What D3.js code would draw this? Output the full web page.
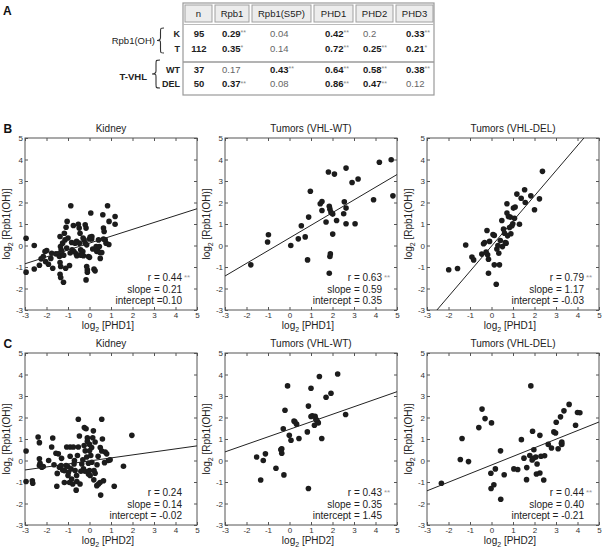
<!DOCTYPE html>
<html><head><meta charset="utf-8">
<script src="https://cdn.jsdelivr.net/npm/d3@7"></script>
<style>body{margin:0;background:#fff}svg{display:block}</style>
</head><body>
<script>
// ---------------- DATA ----------------
const tableCols = ["n", "Rpb1", "Rpb1(S5P)", "PHD1", "PHD2", "PHD3"];
const tableGroups = ["Rpb1(OH)", "T-VHL"];
const tableRowLabels = [["K", "T"], ["WT", "DEL"]];
const tableN = [[95, 112], [37, 50]];
// value, significance stars ("" = not significant)
const tableValues = [
  [["0.29","**"],["0.04",""],["0.42","**"],["0.2",""],["0.33","**"]],
  [["0.35","*"],["0.14",""],["0.72","**"],["0.25","**"],["0.21","*"]],
  [["0.17",""],["0.43","**"],["0.64","**"],["0.58","**"],["0.38","**"]],
  [["0.37","**"],["0.08",""],["0.86","**"],["0.47","**"],["0.12",""]]
];

const axisTicks = [-3, -2, -1, 0, 1, 2, 3, 4, 5];
const panelTitles = ["Kidney", "Tumors (VHL-WT)", "Tumors (VHL-DEL)"];
const xLabels = ["PHD1", "PHD2"];
const panelLetters = ["B", "C"];

// [log2 PHD, log2 Rpb1(OH)]
const kidneyPHD1 = [
[-2.95,0.34],[-2.95,-1.24],[-2.57,0.0],[-2.57,-1.09],[-2.33,-0.92],[-2.25,-0.62],[-2.15,-0.51],[-2.07,-0.28],
[-1.99,-0.23],[-2.04,-0.75],[-1.91,-0.87],[-1.71,-1.06],[-1.76,-0.36],[-1.56,-0.39],[-1.45,-0.39],[-1.40,-0.51],
[-1.37,0.42],[-1.35,-0.05],[-1.32,-0.2],[-1.37,-0.79],[-1.34,-0.98],[-1.37,-1.34],[-1.34,-1.49],[-1.21,-1.71],
[-1.29,-0.28],[-1.25,0.11],[-1.17,0.57],[-1.14,0.26],[-1.11,-1.06],[-1.09,0.85],[-1.06,-0.12],[-1.04,1.12],
[-0.93,-0.93],[-0.87,1.85],[-0.83,0.14],[-0.81,-0.2],[-0.75,0.93],[-0.72,-0.28],[-0.67,0.11],[-0.62,-0.39],
[-0.59,-0.48],[-0.52,0.99],[-0.48,0.81],[-0.47,0.11],[-0.44,0.57],[-0.41,-0.2],[-0.36,-0.39],[-0.31,-0.28],
[-0.28,-0.48],[-0.25,0.26],[-0.2,0.11],[-0.2,0.96],[-0.16,0.81],[-0.16,-1.6],[-0.13,0.03],[-0.13,-0.98],
[-0.1,-1.13],[-0.1,-1.24],[-0.05,-0.51],[0.0,0.3],[0.03,0.39],[0.06,1.51],[0.11,0.42],[0.15,-0.16],
[0.21,-1.1],[0.26,-1.18],[0.31,-0.05],[0.34,-0.28],[0.37,-0.23],[0.42,0.26],[0.46,-0.05],[0.49,-0.33],
[0.57,-0.33],[0.62,1.43],[0.65,0.81],[0.68,0.65],[0.73,0.26],[0.77,0.11],[0.84,1.85],[0.91,1.12],
[1.19,1.35],[1.19,0.99],[-0.3,0.35],[-0.6,0.2],[0.5,-0.6],[-1.0,0.35],[0.9,0.05],[-1.8,-0.6],
[-0.9,-0.35],[0.1,0.3],[-0.4,-0.45],[0.0,-0.55],[0.65,0.3],[-1.2,-0.45]
];
const wtPHD1 = [
[-1.80,-0.90],[-1.02,0.16],[-0.98,0.50],[0.06,0.0],[0.41,0.31],[0.55,0.92],[0.73,0.40],[0.84,-0.67],
[0.89,1.32],[0.97,2.52],[1.43,1.94],[1.51,2.05],[1.51,1.63],[1.70,1.09],[1.81,3.42],[1.85,1.82],
[1.88,1.69],[1.90,-0.39],[1.88,-0.51],[1.85,-1.29],[1.93,1.54],[2.01,1.46],[2.01,0.53],[2.09,3.32],
[2.19,1.16],[2.52,1.48],[2.55,2.03],[2.63,3.60],[2.63,1.74],[2.63,1.01],[2.91,2.93],[3.05,1.01],
[3.19,3.09],[3.91,2.13],[4.18,3.87],[4.73,3.99],[4.81,2.31]
];
const delPHD1 = [
[-1.99,-1.13],[-1.58,-1.07],[-1.20,0.02],[-0.91,-0.54],[-0.83,-0.67],[-0.45,-0.40],[-0.37,0.08],[-0.32,0.14],
[-0.21,0.70],[-0.18,-0.43],[-0.14,-0.64],[-0.14,-1.29],[-0.09,0.19],[0.07,0.51],[0.13,0.47],[0.13,-0.90],
[0.22,-1.80],[0.25,-0.16],[0.34,-0.36],[0.37,-0.90],[0.41,0.23],[0.48,1.16],[0.51,-0.05],[0.56,0.76],
[0.61,0.57],[0.64,0.14],[0.68,0.11],[0.72,1.51],[0.72,1.94],[0.75,0.45],[0.79,1.35],[0.84,0.84],
[0.87,1.32],[0.95,0.92],[0.99,1.01],[1.02,1.74],[1.07,1.27],[1.10,1.79],[1.18,2.39],[1.30,0.99],
[1.38,2.20],[1.54,2.59],[1.57,2.00],[1.83,2.31],[2.00,1.66],[2.23,2.17],[2.37,3.45],[0.3,0.0],
[0.9,0.55],[-0.25,-0.3]
];
const kidneyPHD2 = [
[-2.95,0.44],[-2.95,-0.98],[-2.66,-0.94],[-2.64,-1.06],[-2.39,1.09],[-2.33,0.83],[-2.33,0.08],[-2.30,-0.13],
[-2.33,-0.23],[-2.22,-0.31],[-2.15,-0.28],[-1.76,0.63],[-1.71,1.05],[-1.65,-0.20],[-1.56,0.34],[-1.52,-1.20],
[-1.45,0.31],[-1.40,-0.31],[-1.32,-0.23],[-1.25,-0.44],[-1.17,-0.47],[-1.17,-1.02],[-1.09,-0.23],[-1.06,0.63],
[-1.01,-0.28],[-0.98,-0.55],[-0.93,-1.02],[-0.90,0.63],[-0.86,-0.39],[-0.83,-0.86],[-0.78,-1.09],[-0.75,0.63],
[-0.72,-0.16],[-0.67,-0.47],[-0.62,-1.38],[-0.59,-0.98],[-0.56,0.23],[-0.52,0.63],[-0.52,1.92],[-0.47,1.14],
[-0.44,-1.09],[-0.36,-0.16],[-0.31,0.03],[-0.28,-0.39],[-0.24,1.53],[-0.21,-0.50],[-0.16,1.48],[-0.13,0.16],
[-0.10,1.06],[-0.05,-0.13],[-0.05,-0.63],[0.0,0.75],[0.0,-0.47],[0.03,-0.70],[0.06,0.23],[0.11,-0.08],
[0.15,1.06],[0.18,1.38],[0.21,-0.47],[0.26,0.86],[0.26,-0.59],[0.34,-1.17],[0.42,-1.09],[0.49,-1.02],
[0.52,-1.61],[0.57,1.92],[0.57,0.44],[0.65,-0.94],[0.73,0.39],[0.80,0.31],[0.88,0.0],[0.96,0.03],
[1.15,-1.20],[1.58,-0.27],[1.97,1.17],[-0.2,0.45],[0.1,0.6],[-0.4,-0.5],[0.4,0.2],[-1.3,0.1],
[-0.9,0.2],[0.7,-0.1],[-0.6,-0.7],[0.2,-0.9],[-1.0,-0.7],[-0.1,0.9],[0.5,0.6],[-1.9,0.0],
[0.0,0.45],[-0.7,0.0],[0.35,-0.2],[-1.5,-0.6],[0.6,1.0],[-0.25,0.7]
];
const wtPHD2 = [
[-1.53,0.16],[-1.22,0.0],[-1.12,0.31],[-1.34,-0.91],[-0.63,-0.36],[-0.40,0.50],[-0.36,0.55],[-0.36,0.34],
[-0.29,1.48],[-0.26,-0.67],[-0.21,2.34],[-0.09,3.47],[-0.01,1.17],[0.07,0.94],[0.21,1.84],[0.33,1.69],
[0.44,1.02],[0.83,1.33],[0.88,2.53],[0.88,-1.30],[1.00,3.36],[1.06,2.08],[1.16,1.64],[1.19,2.06],
[1.23,1.91],[1.26,1.88],[1.34,1.75],[1.39,3.91],[1.50,1.02],[1.70,2.94],[1.93,3.13],[2.24,4.02],
[2.61,2.14],[1.3,1.8],[0.25,1.8],[1.0,2.05],[-0.38,0.52]
];
const delPHD2 = [
[-2.33,-1.06],[-1.45,0.05],[-1.37,1.02],[-1.07,-0.05],[-0.59,1.53],[-0.44,2.39],[-0.30,1.95],[0.00,1.75],
[-0.03,-0.59],[-0.02,-1.30],[0.11,-1.13],[0.18,-0.39],[0.42,0.45],[0.43,-1.80],[0.59,-0.66],[1.04,-0.39],
[1.22,-0.42],[1.39,0.97],[1.51,0.11],[1.63,-0.89],[1.64,-0.33],[1.83,3.47],[1.78,0.23],[1.89,0.02],
[1.91,1.36],[1.97,0.50],[2.06,0.16],[2.09,-0.63],[2.12,-0.16],[2.25,-0.58],[2.25,1.17],[2.43,-0.91],
[2.47,0.22],[2.64,0.75],[2.79,0.58],[2.90,1.33],[2.98,1.28],[3.01,1.78],[3.10,0.55],[3.21,2.03],
[3.27,0.75],[3.27,0.86],[3.37,2.31],[3.61,2.61],[3.91,1.64],[4.00,2.23],[4.11,2.22],[1.95,0.1],
[2.3,0.2],[3.25,0.8]
];
const panelData = [[kidneyPHD1, wtPHD1, delPHD1], [kidneyPHD2, wtPHD2, delPHD2]];

// drawn regression lines
const fitSlopes = [[0.32, 0.59, 1.17], [0.14, 0.35, 0.40]];
const fitIntercepts = [[0.11, 0.35, -0.03], [-0.02, 1.45, -0.21]];
// printed statistics
const statR = [["0.44", "0.63", "0.79"], ["0.24", "0.43", "0.44"]];
const statSig = [["**", "**", "**"], ["", "**", "**"]];
const statSlope = [["0.21", "0.59", "1.17"], ["0.14", "0.35", "0.40"]];
const statIntercept = [["=0.10", "= 0.35", "= -0.03"], ["= -0.02", "= 1.45", "= -0.21"]];

// ---------------- DRAW ----------------
const F = "'Liberation Sans Narrow','Arial Narrow','Liberation Sans',Arial,sans-serif";
const FB = "'Liberation Sans','Arial',sans-serif";
const svg = d3.select("body").append("svg").attr("width", 605).attr("height", 550)
  .style("font-family", F);

// panel letters
svg.append("text").attr("x", 3).attr("y", 15).text("A")
  .style("font-family", FB).style("font-weight", "bold").style("font-size", "12px").attr("fill", "#111");

// ---- Table ----
const colEdges = [183, 213, 250, 312, 354, 394, 434];
const tTop = 3, tBot = 95, hTop = 5, hBot = 22;
const tbl = svg.append("g");
tbl.append("rect").attr("x", colEdges[0]).attr("y", tTop).attr("width", colEdges[6] - colEdges[0])
  .attr("height", tBot - tTop).attr("fill", "#fff").attr("stroke", "#9a9a9a").attr("stroke-width", 1.2);
tableCols.forEach((c, i) => {
  const x0 = colEdges[i] + 2, x1 = colEdges[i + 1] - 1;
  tbl.append("rect").attr("x", x0).attr("y", hTop).attr("width", x1 - x0).attr("height", hBot - hTop)
    .attr("fill", "#ececec").attr("stroke", "#a0a0a0").attr("stroke-width", 1);
  tbl.append("text").attr("x", (x0 + x1) / 2).attr("y", 17).attr("text-anchor", "middle")
    .style("font-size", "9.5px").attr("fill", "#222").text(c);
});
tbl.append("line").attr("x1", colEdges[0]).attr("x2", colEdges[6]).attr("y1", 24.5).attr("y2", 24.5)
  .attr("stroke", "#bbb");
tbl.append("line").attr("x1", colEdges[0]).attr("x2", colEdges[6]).attr("y1", 62).attr("y2", 62)
  .attr("stroke", "#9a9a9a").attr("stroke-width", 1.5);

function brace(xl, xr, yt, yb) {
  const xm = (xl + xr) / 2, ym = (yt + yb) / 2;
  return `M${xr},${yt} C${xm},${yt} ${xm},${yt} ${xm},${yt + 4} L${xm},${ym - 3} ` +
    `C${xm},${ym} ${xl},${ym} ${xl},${ym} C${xm},${ym} ${xm},${ym} ${xm},${ym + 3} ` +
    `L${xm},${yb - 4} C${xm},${yb} ${xm},${yb} ${xr},${yb}`;
}

const rowYs = [[33, 48], [69, 83.5]];
const braceSpan = [[28, 53, 157, 164], [60, 88, 152, 160]];
const valX = [222, 270, 325, 363, 406];
let flat = 0;
tableGroups.forEach((g, gi) => {
  const yc = (rowYs[gi][0] + rowYs[gi][1]) / 2;
  tbl.append("text").attr("x", gi === 0 ? 155 : 147).attr("y", yc + 3.5).attr("text-anchor", "end")
    .style("font-size", "9.5px").style("font-weight", gi === 1 ? "bold" : "normal").attr("fill", "#222").text(g);
  const bs = braceSpan[gi];
  tbl.append("path").attr("d", brace(bs[2], bs[3], bs[0], bs[1]))
    .attr("fill", "none").attr("stroke", "#333").attr("stroke-width", 1.1);
  tableRowLabels[gi].forEach((lab, ri) => {
    const y = rowYs[gi][ri] + 3.5;
    tbl.append("text").attr("x", 180).attr("y", y).attr("text-anchor", "end")
      .style("font-size", "9px").style("font-weight", "bold").attr("fill", "#222").text(lab);
    tbl.append("text").attr("x", 199).attr("y", y).attr("text-anchor", "middle")
      .style("font-size", "9.5px").style("font-weight", "bold").attr("fill", "#222").text(tableN[gi][ri]);
    tableValues[flat].forEach((v, ci) => {
      const sig = v[1] !== "";
      const t = tbl.append("text").attr("x", valX[ci]).attr("y", y)
        .style("font-size", "9.5px").style("font-weight", sig ? "bold" : "normal")
        .attr("fill", sig ? "#1a1a1a" : "#666");
      t.append("tspan").text(v[0]);
      if (sig) t.append("tspan").attr("dy", -1.5).style("font-size", "7px").style("font-weight", "normal")
        .attr("fill", "#888").text(v[1]);
    });
    flat++;
  });
});

// ---- Scatter panels ----
const colX = [25, 225, 427], rowTop = [138, 353], S = 172;
rowTop.forEach((y0, r) => {
  svg.append("text").attr("x", 3.5).attr("y", y0 - 5).text(panelLetters[r])
    .style("font-family", FB).style("font-weight", "bold").style("font-size", "12px").attr("fill", "#111");
  colX.forEach((x0, c) => {
    const x = d3.scaleLinear().domain([-3, 5]).range([x0, x0 + S]);
    const y = d3.scaleLinear().domain([-3, 5]).range([y0 + S, y0]);
    const g = svg.append("g");
    const cid = `clip${r}${c}`;
    g.append("clipPath").attr("id", cid).append("rect")
      .attr("x", x0).attr("y", y0).attr("width", S).attr("height", S);

    const fmt = d => String(d);
    const ax = (gen, tx, ty, labels) => {
      const a = g.append("g").attr("transform", `translate(${tx},${ty})`)
        .call(gen.tickValues(axisTicks).tickSize(-3).tickPadding(labels ? 2 : 0)
          .tickFormat(labels ? fmt : () => ""));
      a.select(".domain").remove();
      a.selectAll(".tick line").attr("stroke", "#555");
      a.selectAll("text").style("font-family", FB).style("font-size", "8px").attr("fill", "#333");
      return a;
    };
    ax(d3.axisBottom(x), 0, y0 + S, true);
    ax(d3.axisLeft(y), x0, 0, true);
    ax(d3.axisTop(x), 0, y0, false);
    ax(d3.axisRight(y), x0 + S, 0, false);

    g.append("rect").attr("x", x0).attr("y", y0).attr("width", S).attr("height", S)
      .attr("fill", "none").attr("stroke", "#555").attr("stroke-width", 1);

    // points
    g.append("g").selectAll("circle").data(panelData[r][c]).join("circle")
      .attr("cx", d => x(d[0])).attr("cy", d => y(d[1])).attr("r", 2.8).attr("fill", "#1c1c1c");

    // fit line
    const b = fitSlopes[r][c], a0 = fitIntercepts[r][c];
    g.append("line").attr("clip-path", `url(#${cid})`)
      .attr("x1", x(-3)).attr("y1", y(a0 + b * -3)).attr("x2", x(5)).attr("y2", y(a0 + b * 5))
      .attr("stroke", "#222").attr("stroke-width", 1);

    // title and labels
    g.append("text").attr("x", x0 + S / 2).attr("y", y0 - 6).attr("text-anchor", "middle")
      .style("font-size", "10px").attr("fill", "#222").text(panelTitles[c]);
    const xl = g.append("text").attr("x", x0 + S / 2 - 3).attr("y", y0 + S + 19).attr("text-anchor", "middle")
      .style("font-size", "10px").attr("fill", "#222");
    xl.append("tspan").text("log");
    xl.append("tspan").attr("dy", 3).style("font-size", "7px").text("2");
    xl.append("tspan").attr("dy", -3).text(" [" + xLabels[r] + "]");
    const yl = g.append("text").attr("transform", `translate(${x0 - 15},${y0 + S / 2}) rotate(-90)`)
      .attr("text-anchor", "middle").style("font-size", "10px").attr("fill", "#222");
    yl.append("tspan").text("log");
    yl.append("tspan").attr("dy", 3).style("font-size", "7px").text("2");
    yl.append("tspan").attr("dy", -3).text(" [Rpb1(OH)]");

    // stats
    const xr = x0 + S - 15;
    const yb = y0 + S;
    g.append("text").attr("x", xr).attr("y", yb - 29).attr("text-anchor", "end")
      .style("font-size", "10px").attr("fill", "#222").text("r = " + statR[r][c]);
    if (statSig[r][c]) g.append("text").attr("x", xr + 2).attr("y", yb - 30)
      .style("font-size", "8px").attr("fill", "#999").text(statSig[r][c]);
    g.append("text").attr("x", xr).attr("y", yb - 17.5).attr("text-anchor", "end")
      .style("font-size", "10px").attr("fill", "#222").text("slope = " + statSlope[r][c]);
    g.append("text").attr("x", xr).attr("y", yb - 6.5).attr("text-anchor", "end")
      .style("font-size", "10px").attr("fill", "#222").text("intercept " + statIntercept[r][c]);
  });
});
</script>
</body></html>
